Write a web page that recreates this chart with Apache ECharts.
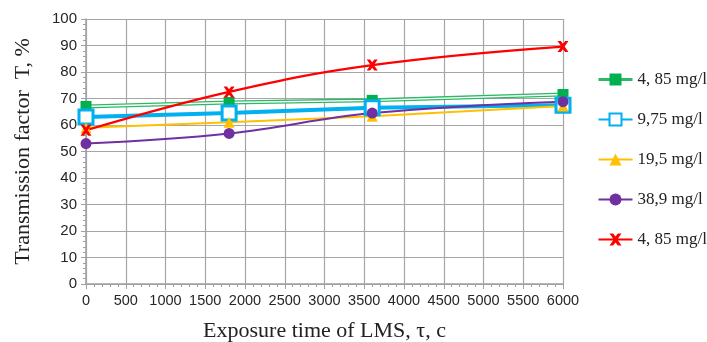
<!DOCTYPE html>
<html><head><meta charset="utf-8">
<script src="https://cdn.jsdelivr.net/npm/echarts@6/dist/echarts.min.js"></script>
<style>html,body{margin:0;padding:0;background:#fff}#c{width:707px;height:342px}</style>
</head><body><div id="c"></div>
<script>
const times = [0, 1800, 3600, 6000];
const green485 = [67, 68.5, 69.3, 71.5];
const blue975 = [63, 64.5, 66.5, 67.5];
const yellow195 = [59, 61, 63.3, 67.2];
const purple389 = [53, 56.8, 64.5, 68.8];
const red485 = [58, 72.5, 82.6, 89.6];
const legendLabels = ['4, 85 mg/l', '9,75 mg/l', '19,5 mg/l', '38,9 mg/l', '4, 85 mg/l'];
const xTitle = 'Exposure time of LMS, τ, c';
const yTitle = 'Transmission factor  T, %';

const pair = arr => times.map((t, i) => [t, arr[i]]);
const X = 'path://M0,0 L3,0 L5,2.5 L7,0 L10,0 L6.5,5 L10,10 L7,10 L5,7.5 L3,10 L0,10 L3.5,5 Z';
const ids = ['s0','s1','s2','s3','s4'];
const chart = echarts.init(document.getElementById('c'));
chart.setOption({
  animation: false,
  grid: {left: 86, right: 144, top: 19, bottom: 58, outerBoundsMode: 'none', containLabel: false},
  legend: {
    orient: 'vertical', left: 592, top: 66, itemGap: 23, itemWidth: 34, itemHeight: 15,
    textStyle: {fontFamily: 'Liberation Serif', fontSize: 17, color: '#222'},
    formatter: n => legendLabels[ids.indexOf(n)],
    data: [
      {name: 's0', lineStyle: {opacity: 1, color: '#2cb866', width: 3}},
      's1','s2','s3','s4'
    ]
  },
  xAxis: {
    type: 'value', min: 0, max: 6000, interval: 500,
    name: xTitle, nameLocation: 'middle', nameGap: 36,
    nameTextStyle: {fontFamily: 'Liberation Serif', fontSize: 22, color: '#222'},
    axisLine: {lineStyle: {color: '#a0a0a0', width: 1.5}},
    axisTick: {show: true, length: 5, lineStyle: {color: '#a0a0a0'}},
    minorTick: {show: true, splitNumber: 5, length: 3, lineStyle: {color: '#a0a0a0'}},
    axisLabel: {fontFamily: 'Liberation Sans', fontSize: 14.5, color: '#262626', margin: 9,
      formatter: v => String(v)},
    splitLine: {show: true, lineStyle: {color: '#a6a6a6', width: 1.2}}
  },
  yAxis: {
    type: 'value', min: 0, max: 100, interval: 10,
    name: yTitle, nameLocation: 'middle', nameGap: 52,
    nameTextStyle: {fontFamily: 'Liberation Serif', fontSize: 22, color: '#222'},
    axisLine: {show: true, lineStyle: {color: '#a0a0a0', width: 1.5}},
    axisTick: {show: true, length: 5, lineStyle: {color: '#a0a0a0'}},
    minorTick: {show: true, splitNumber: 5, length: 3, lineStyle: {color: '#a0a0a0'}},
    axisLabel: {fontFamily: 'Liberation Sans', fontSize: 15, color: '#262626', margin: 9},
    splitLine: {show: true, lineStyle: {color: '#a6a6a6', width: 1.2}}
  },
  series: [
    {type: 'line', data: pair(green485), symbol: 'none', silent: true,
     lineStyle: {color: '#2cb866', width: 4}},
    {type: 'line', data: pair(green485), symbol: 'none', silent: true,
     lineStyle: {color: '#ffffff', width: 1.4}},
    {id: 's0', name: 's0', type: 'line', data: pair(green485), symbol: 'rect', symbolSize: 11,
     itemStyle: {color: '#00b050'}, lineStyle: {opacity: 0, color: '#2cb866'}},
    {id: 's1', name: 's1', type: 'line', data: pair(blue975), symbol: 'rect', symbolSize: 14,
     itemStyle: {color: '#ffffff', borderColor: '#00b0f0', borderWidth: 3},
     lineStyle: {color: '#00b0f0', width: 4}},
    {id: 's2', name: 's2', type: 'line', data: pair(yellow195), symbol: 'triangle', symbolSize: 11,
     itemStyle: {color: '#ffc000'}, lineStyle: {color: '#ffc000', width: 2}},
    {id: 's3', name: 's3', type: 'line', data: pair(purple389), symbol: 'circle', symbolSize: 11,
     smooth: 0.4, itemStyle: {color: '#7030a0'}, lineStyle: {color: '#7030a0', width: 2}},
    {id: 's4', name: 's4', type: 'line', data: pair(red485), symbol: X, symbolSize: 11,
     smooth: 0.4, itemStyle: {color: '#ff0000'}, lineStyle: {color: '#ff0000', width: 2.2}}
  ]
});
</script></body></html>
